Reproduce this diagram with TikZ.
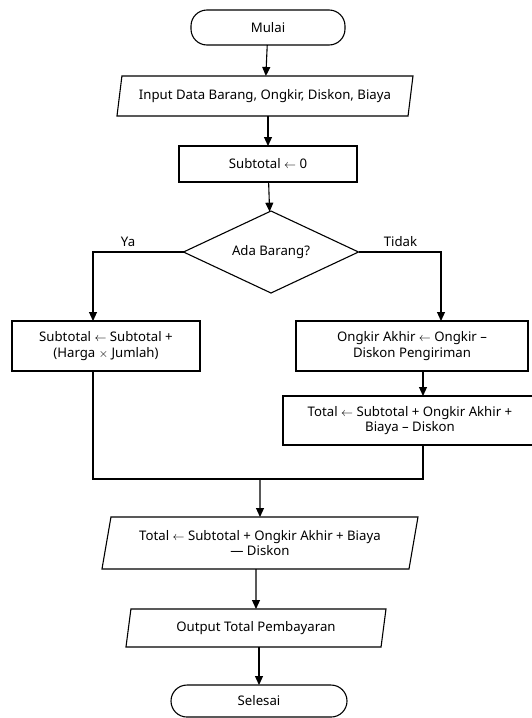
\documentclass[tikz,border=0pt]{standalone}
\usepackage{fontspec}
\setmainfont{Noto Sans}
\usepackage{tikz}
\usetikzlibrary{positioning}
\usetikzlibrary{shapes.geometric}
\usetikzlibrary{arrows.meta}

\begin{document}
\begin{tikzpicture}[
        x=1pt, y=1pt,
        font=\fontsize{13.2}{15.5}\selectfont,
        line width=1.1pt,
        every node/.style={outer sep=0pt},
        terminal/.style={rectangle, draw, rounded corners=16pt, minimum width=154pt, minimum height=35pt},
        io/.style={trapezium, draw, trapezium left angle=72, trapezium right angle=108, trapezium stretches body, text centered, inner xsep=2pt, inner ysep=1pt},
        process/.style={rectangle, draw, text centered, align=center, inner ysep=1pt},
        decision/.style={diamond, draw, aspect=2.13, minimum width=175pt, minimum height=82pt, inner sep=0pt},
        arr/.style={-{Triangle[length=9pt,width=8pt]}}
    ]
        \useasboundingbox (0,0) rectangle (531,-718);

        \node[terminal] (mulai) at (268,-27.5) {Mulai};
        \node[io, below=31pt of mulai, xshift=-3pt, minimum width=296pt, minimum height=40pt] (input) {Input Data Barang, Ongkir, Diskon, Biaya};
        \node[process, below=30pt of input, xshift=3pt, minimum width=178pt, minimum height=36pt] (awal) {Subtotal $\leftarrow$ 0};
        \node[decision, below=29pt of awal, xshift=3pt] (cek) {Ada Barang?};

        \node[process, below=28pt of cek, xshift=-165pt, minimum width=188pt, minimum height=50pt] (tambah) {Subtotal $\leftarrow$ Subtotal +\\(Harga $\times$ Jumlah)};
        \node[process, below=28pt of cek, xshift=141pt, minimum width=232pt, minimum height=50pt] (ongkir) {Ongkir Akhir $\leftarrow$ Ongkir --\\Diskon Pengiriman};
        \node[process, below=25pt of ongkir, xshift=-2pt, minimum width=254pt, minimum height=49pt] (hitung) {Total $\leftarrow$ Subtotal + Ongkir Akhir +\\Biaya -- Diskon};

        \node[io, below=72pt of hitung, xshift=-150pt, minimum width=316pt, minimum height=52pt, align=center] (total) {Total $\leftarrow$ Subtotal + Ongkir Akhir + Biaya\\--- Diskon};
        \node[io, below=40pt of total, xshift=-4pt, minimum width=260pt, minimum height=38pt] (output) {Output Total Pembayaran};
        \node[terminal, below=38pt of output, xshift=3pt, minimum width=176pt, minimum height=32pt] (selesai) {Selesai};

        % titik bantu untuk cabang dan pertemuan
        \coordinate (kiri) at ([xshift=-13pt]tambah.north);
        \coordinate (kanan) at ([xshift=29pt]ongkir.north);
        \coordinate (lurus) at ([xshift=13pt]hitung.south);
        \coordinate (temu) at ([yshift=38pt]total.north);

        \node[above left=2pt and 45pt of cek.west] (ya) {Ya};
        \node[above right=2pt and 22pt of cek.east] (tidak) {Tidak};

        \draw[arr] (mulai) -- (input);
        \draw[arr] (input.south -| awal) -- (awal);
        \draw[arr] (awal) -- (cek);
        \draw[arr] (cek.west) -| (kiri);
        \draw[arr] (cek.east) -| (kanan);
        \draw[arr] (ongkir.south -| lurus) -- (hitung.north -| lurus);
        \draw (kiri |- tambah.south) |- (temu) -| (lurus);
        \draw[arr] (temu) -- (total);
        \draw[arr] (total.south -| output) -- (output);
        \draw[arr] (output.south -| selesai) -- (selesai);
    \end{tikzpicture}
\end{document}
